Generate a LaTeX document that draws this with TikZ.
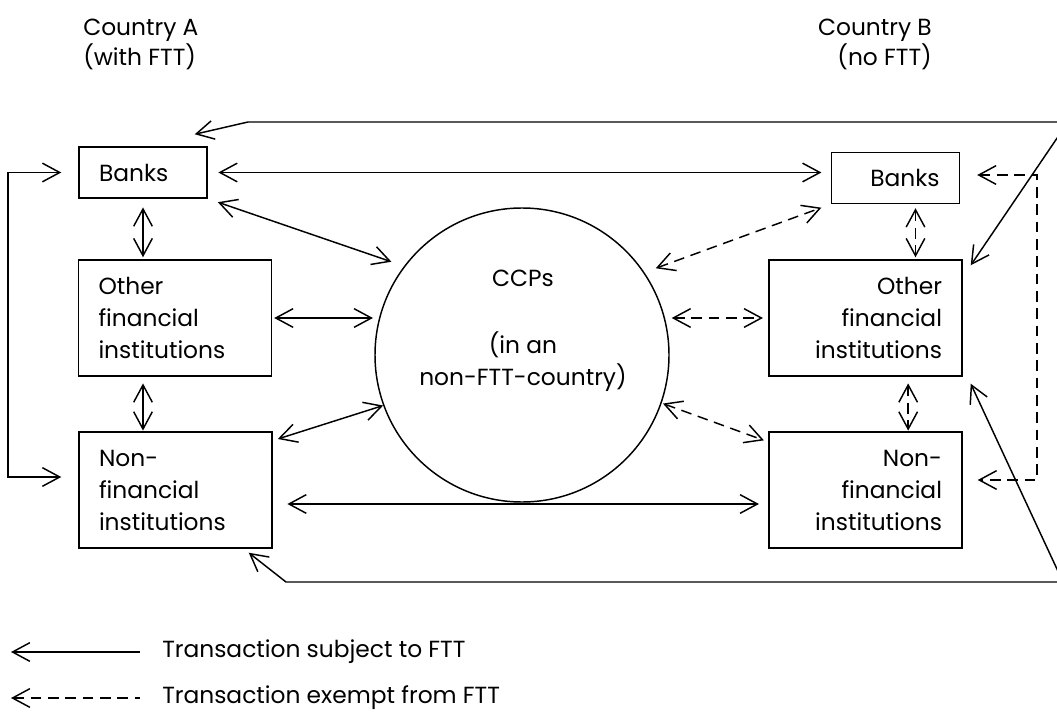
\documentclass[tikz,border=0pt]{standalone}
\usepackage{fontspec}
\setmainfont{Poppins}
\usetikzlibrary{arrows.meta}

\begin{document}
\begin{tikzpicture}[x=0.75pt, y=-0.75pt]
		\tikzstyle{every node} = [font=\fontsize{17.5pt}{24pt}\selectfont, inner sep=0pt]
		\tikzstyle{SmallBox} = [rectangle, minimum width=96pt, minimum height=38.25pt, text width=66pt, inner xsep=15pt, draw=black, line width=1.1pt]
		\tikzstyle{BigBox} = [rectangle, minimum width=144.75pt, minimum height=87pt, text width=114.75pt, inner xsep=15pt, draw=black, line width=1.1pt]
		\tikzstyle{CCP} = [circle, minimum size=220.5pt, draw=black, line width=1.1pt]
		\tikzstyle{LeftText} = [align=left]
		\tikzstyle{RightText} = [align=right]
		\tikzstyle{arrow} = [line width=1.1pt, {Straight Barb[length=13pt,width=14pt]}-{Straight Barb[length=13pt,width=14pt]}]
		\tikzstyle{exempt} = [arrow, dash pattern=on 8pt off 5pt]
		\tikzstyle{keyarrow} = [line width=1.1pt, {Straight Barb[length=13pt,width=14pt]}-]
		
		\useasboundingbox (0,0) rectangle (1057,713);
		
		% countries
		\node (countryA) [anchor=north west, LeftText, font=\fontsize{17.5pt}{22.5pt}\selectfont] at (83,19) {Country A\\(with FTT)};
		\node (countryB) [anchor=north east, RightText, font=\fontsize{17.5pt}{22.5pt}\selectfont] at (932,19) {Country B\\(no FTT)};
		
		% institutions
		\node (banksA) [SmallBox, LeftText] at (143,172.5) {Banks};
		\node (otherA) [BigBox, LeftText] at (175,318) {Other\\financial\\institutions};
		\node (nonA) [BigBox, LeftText] at (175.5,490) {Non-\\financial\\institutions};
		\node (banksB) [SmallBox, RightText] at (895.5,178) {Banks};
		\node (otherB) [BigBox, RightText] at (865.5,318) {Other\\financial\\institutions};
		\node (nonB) [BigBox, RightText] at (865.5,490) {Non-\\financial\\institutions};
		\node (ccp) [CCP] at (522,355) {};
		\node (ccpText) [align=center, anchor=north] at (523,270) {CCPs\\[26pt](in an\\non-FTT-country)};
		
		% corners of the outer lines
		\coordinate (topL) at (248,122);
		\coordinate (topR) at (1068,122);
		\coordinate (botL) at (286,582);
		\coordinate (botR) at (1063,582);
		\coordinate (loopTop) at (8,172.5);
		\coordinate (loopBot) at (8,477);
		\coordinate (dashTop) at (1037,175);
		\coordinate (dashBot) at (1037,480);
		
		% subject to FTT
		\draw [arrow, shorten <=8pt, shorten >=7pt] (banksA.east) -- (banksA.east -| banksB.west);
		\draw [arrow, shorten <=8pt, shorten >=10pt] (banksA.south east) -- (ccp.143);
		\draw [arrow, shorten <=6.5pt, shorten >=1.5pt] (banksA.south) -- (banksA.south |- otherA.north);
		\draw [arrow, shorten <=1.5pt, shorten >=1pt] (otherA.east) -- (otherA.east -| ccp.west);
		\draw [arrow, shorten <=5pt, shorten >=0.5pt] (banksA.south |- otherA.south) -- (banksA.south |- nonA.north);
		\draw [arrow, shorten <=4pt] ([yshift=-7pt]nonA.north east) -- (ccp.200);
		\draw [arrow, shorten <=11pt, shorten >=7pt] ([yshift=-10.5pt]nonA.east) -- ([yshift=-10.5pt]nonB.west);
		\draw [arrow] ([shift={(-9.75pt,9pt)}]banksA.north east) -- (topL) -- (topR) -- ([shift={(6pt,-4.5pt)}]otherB.north east);
		\draw [arrow] ([shift={(-18pt,-3pt)}]nonA.south east) -- (botL) -- (botR) -- ([shift={(6pt,-5.25pt)}]otherB.south east);
		\draw [arrow] ([xshift=-12.75pt]banksA.west) -- (loopTop) -- (loopBot) -- ([shift={(-12.75pt,9.75pt)}]nonA.west);
		
		% exempt from FTT
		\draw [exempt, shorten <=9pt, shorten >=7.5pt] (ccp.34) -- (banksB.south west);
		\draw [exempt, shorten <=1.5pt, shorten >=4pt] (ccp.east |- otherB.west) -- (otherB.west);
		\draw [exempt, shorten <=3pt, shorten >=1.5pt] ([xshift=15pt]banksB.south) -- ([xshift=15pt]banksB.south |- otherB.north);
		\draw [exempt, shorten <=5pt, shorten >=0.5pt] ([xshift=32pt]otherB.south) -- ([xshift=32pt]nonB.north);
		\draw [exempt, shorten <=1pt, shorten >=3.5pt] (ccp.-19) -- ([yshift=-8pt]nonB.north west);
		\draw [exempt] ([shift={(12.75pt,2.25pt)}]banksB.east) -- (dashTop) -- (dashBot) -- ([shift={(11.25pt,7.5pt)}]nonB.east);
		
		% key
		\node (keySubject) [anchor=west] at (162,652) {Transaction subject to FTT};
		\node (keyExempt) [anchor=west] at (162,698) {Transaction exempt from FTT};
		\coordinate (keySolid) at (11,652);
		\coordinate (keyDashed) at (11,698);
		\draw [keyarrow] (keySolid) -- ([xshift=-16.5pt]keySubject.west);
		\draw [keyarrow, dash pattern=on 8pt off 5pt] (keyDashed) -- ([xshift=-16.5pt]keyExempt.west);
\end{tikzpicture}
\end{document}
